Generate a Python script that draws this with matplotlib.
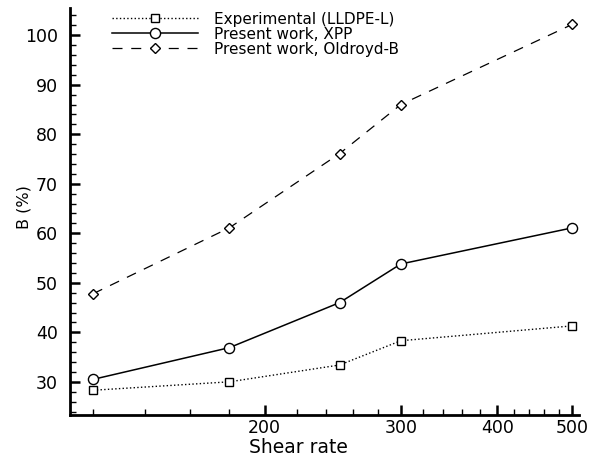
import matplotlib
matplotlib.use('Agg')
import matplotlib.pyplot as plt
from matplotlib.ticker import FixedLocator, NullFormatter, FixedFormatter, MultipleLocator

plt.rcParams['font.family'] = ['DejaVu Sans']

# data
shear = [120, 180, 250, 300, 500]
b_exp = [28.3, 30.0, 33.4, 38.3, 41.3]
b_xpp = [30.5, 36.9, 46.0, 53.8, 61.1]
b_oldroyd = [47.8, 61.1, 76.1, 86.0, 102.2]

x_major = [200, 300, 400, 500]
x_minor = [120, 140, 160, 180, 220, 240, 260, 280, 320, 340, 360, 380,
           420, 440, 460, 480]
y_major = [30, 40, 50, 60, 70, 80, 90, 100]

fig = plt.figure(figsize=(5.89, 4.62), dpi=100)
ax = fig.add_axes([70 / 589, 1 - 415 / 462, (579 - 70) / 589, (415 - 8) / 462])

ax.plot(shear, b_exp, color='black', linestyle=':', linewidth=1.0,
        marker='s', markersize=6, markerfacecolor='white', markeredgewidth=1.0,
        label='Experimental (LLDPE-L)')
ax.plot(shear, b_xpp, color='black', linestyle='-', linewidth=1.1,
        marker='o', markersize=7.3, markerfacecolor='white', markeredgewidth=1.0,
        label='Present work, XPP')
ax.plot(shear, b_oldroyd, color='black', linestyle=(0, (8, 7)), linewidth=0.9,
        marker='D', markersize=5.5, markerfacecolor='white', markeredgewidth=1.0,
        label='Present work, Oldroyd-B')

ax.set_xscale('log')
ax.set_xlim(112, 510)
ax.set_ylim(23.3, 105.5)

ax.xaxis.set_major_locator(FixedLocator(x_major))
ax.xaxis.set_major_formatter(FixedFormatter([str(v) for v in x_major]))
ax.xaxis.set_minor_locator(FixedLocator(x_minor))
ax.xaxis.set_minor_formatter(NullFormatter())
ax.yaxis.set_major_locator(FixedLocator(y_major))
ax.yaxis.set_minor_locator(MultipleLocator(2))

ax.tick_params(which='major', direction='in', length=7, width=1.8, labelsize=12.5)
ax.tick_params(which='minor', direction='in', length=4, width=1.0)
ax.tick_params(axis='x', pad=3)
ax.tick_params(axis='y', pad=8.6)

for s in ['top', 'right']:
    ax.spines[s].set_visible(False)
for s in ['left', 'bottom']:
    ax.spines[s].set_linewidth(2)

ax.set_xlabel('Shear rate', fontsize=13.5)
ax.set_ylabel('B (%)', fontsize=11.5)
ax.xaxis.set_label_coords(0.448, -0.056)
ax.yaxis.set_label_coords(-0.076, 0.511)

ax.legend(loc='upper left', bbox_to_anchor=(0.0707, 1.0056), frameon=False,
          fontsize=11, handlelength=5.6, handletextpad=1.1, labelspacing=0.0,
          borderaxespad=0.0)

fig.savefig('out.png', dpi=100)
